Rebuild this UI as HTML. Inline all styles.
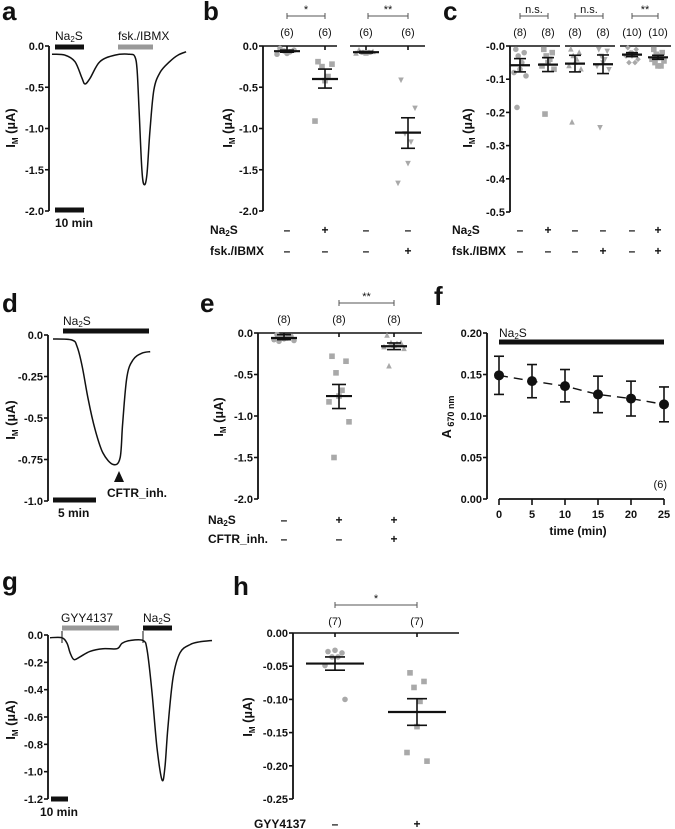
<!DOCTYPE html>
<html><head><meta charset="utf-8">
<style>
html,body{margin:0;padding:0;background:#fff;}
svg{display:block;font-family:"Liberation Sans",Arial,sans-serif;}
</style></head>
<body>
<svg id="fig" xmlns="http://www.w3.org/2000/svg" width="675" height="829" viewBox="0 0 675 829"></svg>
<script>
// ---------- DATA ----------
const aTime=[0,4.6,8.2,10.7,11.8,13.6,17.1,22.5,27.9,29.6,30.4,31.1,32.1,32.9,33.9,35,36.4,38.6,42,45,47.9];
const aCur=[-0.10,-0.11,-0.19,-0.39,-0.46,-0.39,-0.19,-0.11,-0.10,-0.13,-0.29,-0.78,-1.50,-1.68,-1.56,-1.02,-0.53,-0.32,-0.19,-0.11,-0.07];
const aTicks=[0,-0.5,-1,-1.5,-2];
const aTickLabels=["0.0","-0.5","-1.0","-1.5","-2.0"];
const bN=["(6)","(6)","(6)","(6)"];
const bPoints=[[-0.03,-0.05,-0.06,-0.07,-0.09,-0.10],[-0.19,-0.22,-0.25,-0.37,-0.42,-0.91],[-0.05,-0.07,-0.08,-0.08,-0.09,-0.09],[-0.41,-0.75,-1.06,-1.16,-1.42,-1.66]];
const bMean=[-0.063,-0.40,-0.075,-1.05];
const bSemHi=[-0.05,-0.28,-0.065,-0.87];
const bSemLo=[-0.075,-0.51,-0.085,-1.24];
const bNa2S=["–","+","–","–"];
const bFsk=["–","–","–","+"];
const cN=["(8)","(8)","(8)","(8)","(10)","(10)"];
const cPoints=[[-0.01,-0.02,-0.03,-0.05,-0.07,-0.08,-0.09,-0.185],[-0.01,-0.02,-0.03,-0.04,-0.05,-0.06,-0.07,-0.205],[-0.01,-0.02,-0.03,-0.04,-0.05,-0.06,-0.07,-0.23],[-0.01,-0.015,-0.03,-0.04,-0.05,-0.06,-0.07,-0.245],[-0.005,-0.01,-0.02,-0.025,-0.03,-0.03,-0.04,-0.05,-0.05,-0.02],[-0.01,-0.02,-0.025,-0.03,-0.035,-0.04,-0.045,-0.05,-0.06,-0.06]];
const cMean=[-0.058,-0.056,-0.053,-0.055,-0.026,-0.034];
const cSemHi=[-0.038,-0.035,-0.028,-0.027,-0.020,-0.028];
const cSemLo=[-0.078,-0.077,-0.078,-0.083,-0.032,-0.040];
const cNa2S=["–","+","–","–","–","+"];
const cFsk=["–","–","–","+","–","+"];
const dTime=[0,2.2,2.8,3.4,4.1,4.9,5.8,7.0,7.8,8.1,8.6,9.3,10.3,11.3];
const dCur=[-0.024,-0.03,-0.07,-0.19,-0.39,-0.57,-0.71,-0.78,-0.74,-0.53,-0.25,-0.15,-0.11,-0.10];
const eN=["(8)","(8)","(8)"];
const ePoints=[[-0.02,-0.04,-0.05,-0.06,-0.07,-0.08,-0.09,-0.1],[-0.28,-0.34,-0.48,-0.69,-0.76,-0.83,-1.07,-1.5],[-0.03,-0.12,-0.12,-0.13,-0.15,-0.17,-0.19,-0.4]];
const eMean=[-0.06,-0.76,-0.16];
const eSemHi=[-0.02,-0.62,-0.12];
const eSemLo=[-0.08,-0.91,-0.20];
const eNa2S=["–","+","+"];
const eCftr=["–","–","+"];
const fTime=[0,5,10,15,20,25];
const fMean=[0.149,0.142,0.136,0.126,0.121,0.114];
const fHi=[0.172,0.162,0.156,0.148,0.142,0.135];
const fLo=[0.126,0.122,0.117,0.104,0.100,0.093];
const fYTicks=[0,0.05,0.10,0.15,0.20];
const fYLabels=["0.00","0.05","0.10","0.15","0.20"];
const gTime=[0,7,10,11.8,14.1,17.6,23.5,31.2,39.4,42.4,47.1,54.7,57.1,60,62.9,65.9,67.6,69.4,72.4,76.5,82.4,88.2,95.3];
const gCur=[-0.02,-0.02,-0.06,-0.13,-0.18,-0.16,-0.12,-0.10,-0.10,-0.06,-0.04,-0.04,-0.11,-0.42,-0.82,-1.06,-0.97,-0.67,-0.31,-0.13,-0.07,-0.05,-0.04];
const hN=["(7)","(7)"];
const hPoints=[[-0.028,-0.030,-0.036,-0.036,-0.026,-0.049,-0.10],[-0.060,-0.073,-0.082,-0.103,-0.141,-0.180,-0.193]];
const hMean=[-0.046,-0.119];
const hSemHi=[-0.036,-0.099];
const hSemLo=[-0.056,-0.139];
const hGyy=["–","+"];

// ---------- HELPERS ----------
const svg=document.getElementById('fig');
const NS="http://www.w3.org/2000/svg";
const GREY="#a9a9a9";
function mk(tag,attrs,name,parent){
  const e=document.createElementNS(NS,tag);
  for(const k in attrs)e.setAttribute(k,attrs[k]);
  
  
  (parent||svg).appendChild(e);return e;
}
function txt(x,y,s,name,opt){
  opt=opt||{};
  const t=mk('text',{x:x,y:y,'font-size':opt.size||11,'font-weight':opt.bold?'bold':'normal','text-anchor':opt.anchor||'start',fill:opt.fill||'#111'},name,opt.parent);
  if(opt.html)t.innerHTML=s;else t.textContent=s;
  if(opt.rot)t.setAttribute('transform','rotate(-90 '+x+' '+y+')');
  return t;
}
function line(x1,y1,x2,y2,name,w,c,p){return mk('line',{x1:x1,y1:y1,x2:x2,y2:y2,stroke:c||'#111','stroke-width':w||1.6},name,p);}
function lin(d0,d1,r0,r1){return v=>r0+(v-d0)*(r1-r0)/(d1-d0);}
function yAxis(x,ys,ticks,labels,name){
  const g=mk('g',{},name);
  line(x,ys(ticks[0]),x,ys(ticks[ticks.length-1]),name+'-line',1.8,'#111',g);
  ticks.forEach((t,i)=>{
    line(x-4,ys(t),x,ys(t),name+'-tick',1.6,'#111',g);
    txt(x-5,ys(t)+4,labels[i],name+'-label',{bold:true,anchor:'end',parent:g});
  });
}
function yTitle(x,y,name){
  txt(x,y,'I<tspan font-size="8" dy="3">M</tspan><tspan dy="-3"> (µA)</tspan>',name,{bold:true,size:13,anchor:'middle',rot:true,html:true});
}
function marker(shape,cx,cy,name,p){
  const s=2.8;
  if(shape==='circle')return mk('circle',{cx:cx,cy:cy,r:s,fill:GREY},name,p);
  if(shape==='square')return mk('rect',{x:cx-s,y:cy-s,width:2*s,height:2*s,fill:GREY},name,p);
  if(shape==='up')return mk('polygon',{points:`${cx},${cy-s-0.5} ${cx-s},${cy+s-0.5} ${cx+s},${cy+s-0.5}`,fill:GREY},name,p);
  if(shape==='down')return mk('polygon',{points:`${cx},${cy+s+0.5} ${cx-s},${cy-s+0.5} ${cx+s},${cy-s+0.5}`,fill:GREY},name,p);
  return mk('polygon',{points:`${cx},${cy-s} ${cx+s},${cy} ${cx},${cy+s} ${cx-s},${cy}`,fill:GREY},name,p);
}
const JIT=[-7,7,-3,3,0,-10,10,-5,5,0];
function scatterCol(cx,ys,pts,mean,hi,lo,shape,name,mw,cw,js){
  js=js||1;
  const g=mk('g',{},name);
  pts.forEach((v,i)=>marker(shape,cx+JIT[i%JIT.length]*js,ys(v),name+'-point',g));
  line(cx-mw,ys(mean),cx+mw,ys(mean),name+'-mean',2.2,'#111',g);
  line(cx,ys(hi),cx,ys(lo),name+'-sem',1.6,'#111',g);
  line(cx-cw,ys(hi),cx+cw,ys(hi),name+'-sem-cap',1.6,'#111',g);
  line(cx-cw,ys(lo),cx+cw,ys(lo),name+'-sem-cap',1.6,'#111',g);
}
function bracket(x1,x2,y,label,name){
  const g=mk('g',{},name);
  line(x1,y,x2,y,name+'-line',1,'#555',g);
  line(x1,y-3,x1,y+3,name+'-end',1,'#555',g);
  line(x2,y-3,x2,y+3,name+'-end',1,'#555',g);
  txt((x1+x2)/2,y-3,label,name+'-label',{anchor:'middle',size:11,parent:g});
}
function trace(xs,ys,T,V,name){
  const P=T.map((t,i)=>[xs(t),ys(V[i])]);
  let d='M'+P[0][0].toFixed(1)+','+P[0][1].toFixed(1);
  for(let i=0;i<P.length-1;i++){
    const p0=P[Math.max(0,i-1)],p1=P[i],p2=P[i+1],p3=P[Math.min(P.length-1,i+2)];
    const c1=[p1[0]+(p2[0]-p0[0])/6,p1[1]+(p2[1]-p0[1])/6];
    const c2=[p2[0]-(p3[0]-p1[0])/6,p2[1]-(p3[1]-p1[1])/6];
    d+=' C'+c1[0].toFixed(1)+','+c1[1].toFixed(1)+' '+c2[0].toFixed(1)+','+c2[1].toFixed(1)+' '+p2[0].toFixed(1)+','+p2[1].toFixed(1);
  }
  mk('path',{d:d,fill:'none',stroke:'#111','stroke-width':1.5,'stroke-linejoin':'round'},name);
}
function bar(x1,x2,y,c,name,w){mk('rect',{x:x1,y:y-(w||5)/2,width:x2-x1,height:w||5,fill:c},name);}
function letter(x,y,s){txt(x,y,s,'panel-label-'+s,{bold:true,size:26});}

// ---------- PANEL A ----------
letter(2,20,'a');
const ya=lin(0,-2,46,211), xa=t=>52+t*2.8;
yAxis(49,ya,aTicks,aTickLabels,'a-y-axis');
yTitle(15,128,'a-y-axis-title');
trace(xa,ya,aTime,aCur,'a-current-trace');
bar(55,84,47,'#111','a-na2s-bar');
bar(118,153,47,'#999','a-fsk-ibmx-bar');
txt(55,40,'Na<tspan font-size="8" dy="2">2</tspan><tspan dy="-2">S</tspan>','a-na2s-label',{size:12,html:true});
txt(118,40,'fsk./IBMX','a-fsk-label',{size:12});
bar(55,84,210,'#111','a-scale-bar');
txt(55,227,'10 min','a-scale-label',{bold:true,size:12});

// ---------- PANEL B ----------
letter(203,20,'b');
const yb=lin(0,-2,46,211);
const bX=[287,325,366,408];
yAxis(263,yb,aTicks,aTickLabels,'b-y-axis');
line(263,46,337,46,'b-zero-line-1',1.6);
line(350,46,425,46,'b-zero-line-2',1.6);
bX.forEach(x=>line(x,46,x,50,'b-col-tick',1.6));
yTitle(232,128,'b-y-axis-title');
const bShapes=['circle','square','up','down'];
bX.forEach((x,i)=>{
  scatterCol(x,yb,bPoints[i],bMean[i],bSemHi[i],bSemLo[i],bShapes[i],'b-col-'+(i+1),13,7);
  txt(x,36,bN[i],'b-n-label',{anchor:'middle'});
  txt(x,234,bNa2S[i],'b-na2s-mark',{anchor:'middle',bold:true,size:12});
  txt(x,255,bFsk[i],'b-fsk-mark',{anchor:'middle',bold:true,size:12});
});
bracket(287,325,16,'*','b-sig-1');
bracket(368,408,16,'**','b-sig-2');
txt(210,234,'Na<tspan font-size="8" dy="2">2</tspan><tspan dy="-2">S</tspan>','b-na2s-row-label',{bold:true,size:12,html:true});
txt(210,255,'fsk./IBMX','b-fsk-row-label',{bold:true,size:12});

// ---------- PANEL C ----------
letter(443,20,'c');
const yc=lin(0,-0.5,46,212);
const cX=[520,548,575,603,632,658];
yAxis(510,yc,[0,-0.1,-0.2,-0.3,-0.4,-0.5],["-0.0","-0.1","-0.2","-0.3","-0.4","-0.5"],'c-y-axis');
line(510,46,560,46,'c-zero-line-1',1.6);
line(565,46,615,46,'c-zero-line-2',1.6);
line(620,46,671,46,'c-zero-line-3',1.6);
yTitle(472,128,'c-y-axis-title');
const cShapes=['circle','square','up','down','diamond','square'];
cX.forEach((x,i)=>{
  scatterCol(x,yc,cPoints[i],cMean[i],cSemHi[i],cSemLo[i],cShapes[i],'c-col-'+(i+1),10,6,0.6);
  txt(x,36,cN[i],'c-n-label',{anchor:'middle'});
  txt(x,234,cNa2S[i],'c-na2s-mark',{anchor:'middle',bold:true,size:12});
  txt(x,255,cFsk[i],'c-fsk-mark',{anchor:'middle',bold:true,size:12});
});
bracket(520,548,16,'n.s.','c-sig-1');
bracket(575,603,16,'n.s.','c-sig-2');
bracket(632,658,16,'**','c-sig-3');
txt(452,234,'Na<tspan font-size="8" dy="2">2</tspan><tspan dy="-2">S</tspan>','c-na2s-row-label',{bold:true,size:12,html:true});
txt(452,255,'fsk./IBMX','c-fsk-row-label',{bold:true,size:12});

// ---------- PANEL D ----------
letter(2,312,'d');
const yd=lin(0,-1,335,501), xd=t=>53+t*8.6;
yAxis(48,yd,[0,-0.25,-0.5,-0.75,-1],["0.0","-0.25","-0.5","-0.75","-1.0"],'d-y-axis');
yTitle(15,420,'d-y-axis-title');
trace(xd,yd,dTime,dCur,'d-current-trace');
bar(63,149,331,'#111','d-na2s-bar');
txt(63,325,'Na<tspan font-size="8" dy="2">2</tspan><tspan dy="-2">S</tspan>','d-na2s-label',{size:12,html:true});
mk('polygon',{points:'119,471 114,482 124,482',fill:'#111'},'d-cftr-arrow');
txt(107,497,'CFTR_inh.','d-cftr-label',{bold:true,size:12});
bar(53,96,500,'#111','d-scale-bar');
txt(58,517,'5 min','d-scale-label',{bold:true,size:12});

// ---------- PANEL E ----------
letter(200,312,'e');
const ye=lin(0,-2,333,499);
const eX=[284,339,394];
yAxis(258,ye,aTicks,aTickLabels,'e-y-axis');
line(258,333,422,333,'e-zero-line',1.6);
eX.forEach(x=>line(x,333,x,337,'e-col-tick',1.6));
yTitle(223,417,'e-y-axis-title');
const eShapes=['circle','square','up'];
eX.forEach((x,i)=>{
  scatterCol(x,ye,ePoints[i],eMean[i],eSemHi[i],eSemLo[i],eShapes[i],'e-col-'+(i+1),13,7);
  txt(x,323,eN[i],'e-n-label',{anchor:'middle'});
  txt(x,524,eNa2S[i],'e-na2s-mark',{anchor:'middle',bold:true,size:12});
  txt(x,543,eCftr[i],'e-cftr-mark',{anchor:'middle',bold:true,size:12});
});
bracket(339,394,303,'**','e-sig');
txt(208,524,'Na<tspan font-size="8" dy="2">2</tspan><tspan dy="-2">S</tspan>','e-na2s-row-label',{bold:true,size:12,html:true});
txt(208,543,'CFTR_inh.','e-cftr-row-label',{bold:true,size:12});

// ---------- PANEL F ----------
letter(434,305,'f');
const yf=lin(0,0.2,499,333), xf=lin(0,25,499,664);
yAxis(487,yf,fYTicks,fYLabels,'f-y-axis');
line(499,499,664,499,'f-x-axis-line',1.8);
fTime.forEach(t=>{
  line(xf(t),499,xf(t),505,'f-x-tick',1.6);
  txt(xf(t),518,String(t),'f-x-tick-label',{bold:true,anchor:'middle'});
});
txt(578,535,'time (min)','f-x-axis-title',{bold:true,size:12,anchor:'middle'});
txt(451,417,'A<tspan font-size="9" dy="3"> 670 nm</tspan>','f-y-axis-title',{bold:true,size:13,anchor:'middle',rot:true,html:true});
bar(499,664,342,'#111','f-na2s-bar');
txt(499,337,'Na<tspan font-size="8" dy="2">2</tspan><tspan dy="-2">S</tspan>','f-na2s-label',{size:12,html:true});
mk('polyline',{points:fTime.map((t,i)=>xf(t)+','+yf(fMean[i])).join(' '),fill:'none',stroke:'#111','stroke-width':1.4,'stroke-dasharray':'9,6'},'f-mean-line');
fTime.forEach((t,i)=>{
  const g=mk('g',{},'f-point-'+t);
  line(xf(t),yf(fHi[i]),xf(t),yf(fLo[i]),'f-error-bar',1.6,'#111',g);
  line(xf(t)-5,yf(fHi[i]),xf(t)+5,yf(fHi[i]),'f-error-cap',1.6,'#111',g);
  line(xf(t)-5,yf(fLo[i]),xf(t)+5,yf(fLo[i]),'f-error-cap',1.6,'#111',g);
  mk('circle',{cx:xf(t),cy:yf(fMean[i]),r:5,fill:'#111'},'f-mean-point',g);
});
txt(667,488,'(6)','f-n-label',{anchor:'end'});

// ---------- PANEL G ----------
letter(2,590,'g');
const yg=lin(0,-1.2,635,799), xg=t=>50+t*1.7;
yAxis(48,yg,[0,-0.2,-0.4,-0.6,-0.8,-1.0,-1.2],["0.0","-0.2","-0.4","-0.6","-0.8","-1.0","-1.2"],'g-y-axis');
yTitle(15,720,'g-y-axis-title');
trace(xg,yg,gTime,gCur,'g-current-trace');
line(62,631,62,643,'g-artifact',1);
line(143,631,143,643,'g-artifact',1);
bar(62,119,628,'#999','g-gyy-bar');
bar(143,172,628,'#111','g-na2s-bar');
txt(61,622,'GYY4137','g-gyy-label',{size:12});
txt(143,622,'Na<tspan font-size="8" dy="2">2</tspan><tspan dy="-2">S</tspan>','g-na2s-label',{size:12,html:true});
bar(51,68,799,'#111','g-scale-bar');
txt(40,816,'10 min','g-scale-label',{bold:true,size:12});

// ---------- PANEL H ----------
letter(233,595,'h');
const yh=lin(0,-0.25,633,799);
const hX=[335,417];
yAxis(293,yh,[0,-0.05,-0.1,-0.15,-0.2,-0.25],["0.00","-0.05","-0.10","-0.15","-0.20","-0.25"],'h-y-axis');
line(293,633,459,633,'h-zero-line',1.6);
hX.forEach(x=>line(x,633,x,637,'h-col-tick',1.6));
yTitle(252,717,'h-y-axis-title');
const hShapes=['circle','square'];
hX.forEach((x,i)=>{
  scatterCol(x,yh,hPoints[i],hMean[i],hSemHi[i],hSemLo[i],hShapes[i],'h-col-'+(i+1),29,10);
  txt(x,625,hN[i],'h-n-label',{anchor:'middle'});
  txt(x,828,hGyy[i],'h-gyy-mark',{anchor:'middle',bold:true,size:12});
});
bracket(335,417,605,'*','h-sig');
txt(254,828,'GYY4137','h-gyy-row-label',{bold:true,size:12});
</script>
</body></html>
